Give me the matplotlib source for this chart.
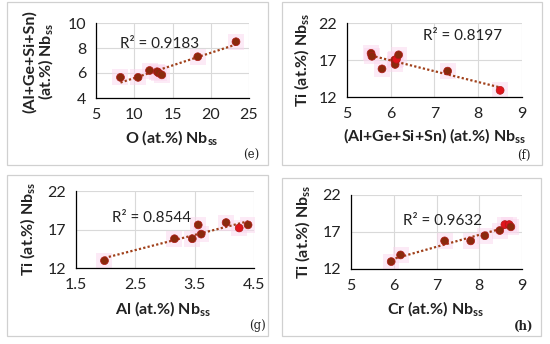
import numpy as np
import matplotlib
matplotlib.use("Agg")
import matplotlib.pyplot as plt
from matplotlib.patches import Rectangle

plt.rcParams['font.family'] = ['Lato', 'DejaVu Sans']
plt.rcParams['mathtext.fontset'] = 'custom'
plt.rcParams['mathtext.rm'] = 'Lato'
plt.rcParams['mathtext.bf'] = 'Lato:bold'

# (e) O vs (Al+Ge+Si+Sn)
e_x = [8.2, 10.5, 12.0, 13.0, 13.2, 13.6, 18.3, 23.3]
e_y = [5.65, 5.65, 6.2, 6.1, 6.0, 5.85, 7.3, 8.5]
# (f) (Al+Ge+Si+Sn) vs Ti
f_x = [5.55, 5.57, 5.80, 6.09, 6.10, 6.13, 6.18, 7.30, 8.50]
f_y = [17.9, 17.5, 15.8, 17.0, 16.4, 17.1, 17.7, 15.5, 12.9]
# (g) Al vs Ti
g_x = [1.98, 3.16, 3.46, 3.56, 3.61, 4.03, 4.25, 4.40]
g_y = [12.95, 15.8, 15.8, 17.6, 16.4, 17.9, 17.2, 17.6]
# (h) Cr vs Ti
h_x = [5.94, 6.16, 7.19, 7.80, 8.13, 8.48, 8.60, 8.70, 8.74]
h_y = [13.0, 13.9, 15.8, 15.8, 16.5, 17.2, 18.0, 18.0, 17.7]

W, H = 550, 344
fig = plt.figure(figsize=(5.5, 3.44), dpi=100)

FS = 11.5


def px_axes(x0, y0, x1, y1):
    return fig.add_axes([x0 / W, 1 - y1 / H, (x1 - x0) / W, (y1 - y0) / H])


def box(x0, y0, x1, y1):
    fig.patches.append(Rectangle((x0 / W, 1 - y1 / H), (x1 - x0) / W, (y1 - y0) / H,
                                 transform=fig.transFigure, fill=False,
                                 edgecolor='#d0d0d0', linewidth=0.9))


def panel(rect, xs, ys, xlim, xticks, ylim, yticks, r2, r2pos, red_idx):
    ax = px_axes(*rect)
    ax.set_xlim(xlim)
    ax.set_ylim(ylim)
    ax.set_xticks(xticks)
    ax.set_yticks(yticks)
    ax.grid(True, color='#d9d9d9', linewidth=0.8)
    ax.set_axisbelow(True)
    for s in ['top', 'right']:
        ax.spines[s].set_visible(False)
    for s in ['left', 'bottom']:
        ax.spines[s].set_color('black')
        ax.spines[s].set_linewidth(0.9)
    ax.tick_params(length=0, labelsize=FS, pad=7, colors='#222222')
    xs = np.array(xs)
    ys = np.array(ys)
    # pink halo
    ax.scatter(xs, ys, s=120, marker='s', color='#fbd6ee', alpha=0.5,
               linewidths=0, zorder=2)
    # trendline
    k, b = np.polyfit(xs, ys, 1)
    lx = np.array([xs.min(), xs.max()])
    ax.plot(lx, k * lx + b, linestyle=(0, (1, 1)), color='#a0401a',
            linewidth=1.6, zorder=3)
    cols = ['#e0141c' if i in red_idx else '#8a2a0c' for i in range(len(xs))]
    ax.scatter(xs, ys, s=32, color=cols, edgecolors='#b01818',
               linewidths=0.5, zorder=4)
    ax.text(r2pos[0], r2pos[1], 'R² = ' + r2, fontsize=11, va='center',
            ha='left', color='#222222')
    return ax


lab = dict(fontsize=FS, fontweight='bold', color='#222222')
sub = r'Nb$_{\mathbf{ss}}$'

# panel boxes
box(7, 2, 268, 165)
box(282, 2, 542, 165)
box(7, 175, 268, 336)
box(282, 178, 541, 336)

ax = panel((96, 23, 249, 98), e_x, e_y, (5, 25), [5, 10, 15, 20, 25],
           (4, 10), [4, 6, 8, 10], '0.9183', (8.2, 8.35), [])
fig.text(39 / W, 1 - 62 / H, '(Al+Ge+Si+Sn)\n(at.%) ' + sub, rotation=90,
         ha='center', va='center', linespacing=1.0, multialignment='center',
         **lab)
fig.text(172 / W, 1 - 138 / H, 'O (at.%) ' + sub, ha='center', va='center', **lab)
fig.text(251 / W, 1 - 155 / H, '(e)', ha='center', va='center',
         family='DejaVu Serif', fontsize=8.5, color='#222222')

ax = panel((347, 23, 522, 97), f_x, f_y, (5, 9), [5, 6, 7, 8, 9],
           (12, 22), [12, 17, 22], '0.8197', (6.73, 20.2), [5, 8])
fig.text(302 / W, 1 - 60 / H, 'Ti (at.%) ' + sub, rotation=90, ha='center',
         va='center', **lab)
fig.text(435 / W, 1 - 136 / H, '(Al+Ge+Si+Sn) (at.%) ' + sub, ha='center',
         va='center', **lab)
fig.text(524 / W, 1 - 155 / H, '(f)', ha='center', va='center',
         family='DejaVu Serif', fontsize=8.5, color='#222222')

ax = panel((76, 191, 254, 268), g_x, g_y, (1.5, 4.5), [1.5, 2.5, 3.5, 4.5],
           (12, 22), [12, 17, 22], '0.8544', (2.1, 18.5), [6])
fig.text(28 / W, 1 - 229 / H, 'Ti (at.%) ' + sub, rotation=90, ha='center',
         va='center', **lab)
fig.text(163 / W, 1 - 309 / H, 'Al (at.%) ' + sub, ha='center', va='center', **lab)
fig.text(257 / W, 1 - 326 / H, '(g)', ha='center', va='center',
         family='DejaVu Serif', fontsize=8.5, color='#222222')

ax = panel((351, 195, 522, 269), h_x, h_y, (5, 9), [5, 6, 7, 8, 9],
           (12, 22), [12, 17, 22], '0.9632', (6.22, 18.45), [6, 7])
fig.text(303 / W, 1 - 232 / H, 'Ti (at.%) ' + sub, rotation=90, ha='center',
         va='center', **lab)
fig.text(436 / W, 1 - 309 / H, 'Cr (at.%) ' + sub, ha='center', va='center', **lab)
fig.text(524 / W, 1 - 326 / H, '(h)', ha='center', va='center',
         family='DejaVu Serif', fontsize=8.5, fontweight='bold', color='#222222')

fig.savefig('out.png', dpi=100)
